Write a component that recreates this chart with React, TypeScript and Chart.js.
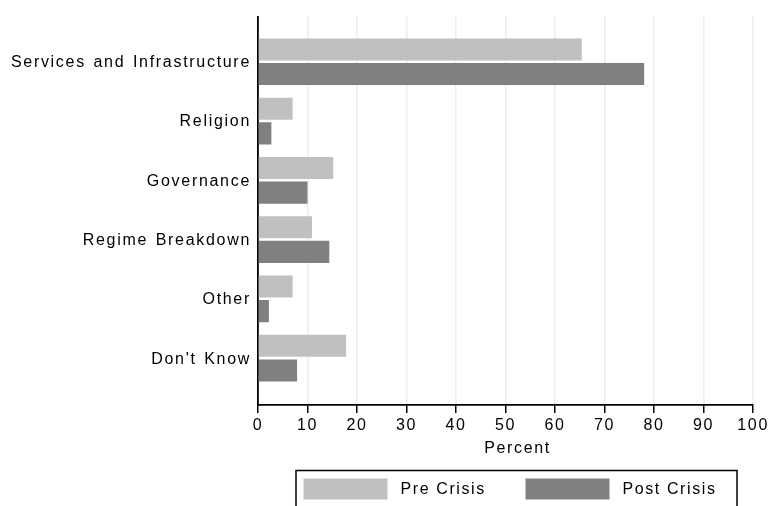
import { useEffect, useRef } from 'react';
import { Chart, registerables } from 'chart.js';

Chart.register(...registerables);

const categories = [
  'Services and Infrastructure',
  'Religion',
  'Governance',
  'Regime Breakdown',
  'Other',
  "Don't Know",
];
const preCrisis = [65.4, 7.0, 15.2, 10.9, 7.0, 17.8];
const postCrisis = [78.0, 2.7, 10.0, 14.4, 2.2, 7.9];
const xTickValues = [0, 10, 20, 30, 40, 50, 60, 70, 80, 90, 100];
const seriesLabels = ['Pre Crisis', 'Post Crisis'];
const seriesColors = ['#c0c0c0', '#808080'];
const xTitle = 'Percent';

const FAMILY = '"Liberation Sans", Arial, Helvetica, sans-serif';
const FONT_SIZE = 16;
const LS = '1.7px';
const WS = '1.5px';

function setSpacing(ctx: any) {
  ctx.letterSpacing = LS;
  ctx.wordSpacing = WS;
}

const decor = {
  id: 'decor',
  beforeUpdate(chart: any) {
    setSpacing(chart.ctx);
  },
  beforeDraw(chart: any) {
    setSpacing(chart.ctx);
  },
  afterDraw(chart: any) {
    const ctx = chart.ctx as CanvasRenderingContext2D;
    ctx.save();
    (ctx as any).letterSpacing = '1.6px';
    (ctx as any).wordSpacing = '0px';
    ctx.font = `${FONT_SIZE}px ${FAMILY}`;
    ctx.fillStyle = '#000';
    ctx.textBaseline = 'middle';
    ctx.textAlign = 'center';
    ctx.fillText(xTitle, 517.5, 449);

    ctx.strokeStyle = '#000';
    ctx.lineWidth = 1.5;
    ctx.strokeRect(296, 470.5, 441, 60);

    const xs = [303.5, 525.5];
    chart.data.datasets.forEach((ds: any, i: number) => {
      ctx.fillStyle = ds.backgroundColor;
      ctx.fillRect(xs[i], 478.5, 84, 21);
      ctx.fillStyle = '#000';
      ctx.textAlign = 'left';
      ctx.fillText(ds.label, xs[i] + 97, 489.5);
    });
    ctx.restore();
  },
};

export default function App() {
  const ref = useRef<HTMLCanvasElement | null>(null);

  useEffect(() => {
    if (!ref.current) return;
    const chart = new Chart(ref.current, {
      type: 'bar',
      data: {
        datasets: [
          {
            label: seriesLabels[0],
            data: categories.map((_, i) => ({ x: preCrisis[i], y: i })),
            backgroundColor: seriesColors[0],
            borderWidth: 0,
            categoryPercentage: 0.831,
            barPercentage: 0.897,
          },
          {
            label: seriesLabels[1],
            data: categories.map((_, i) => ({ x: postCrisis[i], y: i })),
            backgroundColor: seriesColors[1],
            borderWidth: 0,
            categoryPercentage: 0.831,
            barPercentage: 0.897,
          },
        ],
      },
      options: {
        indexAxis: 'y',
        responsive: false,
        animation: false,
        layout: { padding: { top: 13, right: 17, left: 0, bottom: 0 } },
        plugins: {
          legend: { display: false },
          tooltip: { enabled: false },
        },
        scales: {
          x: {
            type: 'linear',
            position: 'bottom',
            min: 0,
            max: 100,
            afterFit(scale: any) {
              scale.height = 101;
            },
            afterBuildTicks(scale: any) {
              scale.ticks = xTickValues.map((v) => ({ value: v }));
            },
            grid: {
              color: '#e6eef1',
              lineWidth: 1.5,
              tickColor: '#000',
              tickLength: 8,
              tickWidth: 1.5,
            },
            border: { display: true, color: '#000', width: 1.8 },
            ticks: {
              color: '#000',
              padding: 3,
              maxRotation: 0,
              autoSkip: false,
              font: { family: FAMILY, size: FONT_SIZE },
            },
          },
          y: {
            type: 'linear',
            position: 'left',
            reverse: true,
            offset: false,
            min: -0.762,
            max: 5.791,
            afterFit(scale: any) {
              scale.width = 258;
            },
            afterBuildTicks(scale: any) {
              scale.ticks = categories.map((_, i) => ({ value: i }));
            },
            grid: {
              display: true,
              color: 'rgba(0,0,0,0)',
              drawTicks: false,
            },
            border: { display: true, color: '#000', width: 1.8 },
            ticks: {
              color: '#000',
              padding: 7,
              autoSkip: false,
              labelOffset: 1,
              font: { family: FAMILY, size: FONT_SIZE },
              callback: (v: any) => categories[Math.round(Number(v))] ?? '',
            },
          },
        },
      },
      plugins: [decor],
    });
    return () => chart.destroy();
  }, []);

  return (
    <div style={{ position: 'absolute', left: 0, top: 0, width: 772, height: 506 }}>
      <canvas ref={ref} width={772} height={506} style={{ display: 'block' }} />
    </div>
  );
}
